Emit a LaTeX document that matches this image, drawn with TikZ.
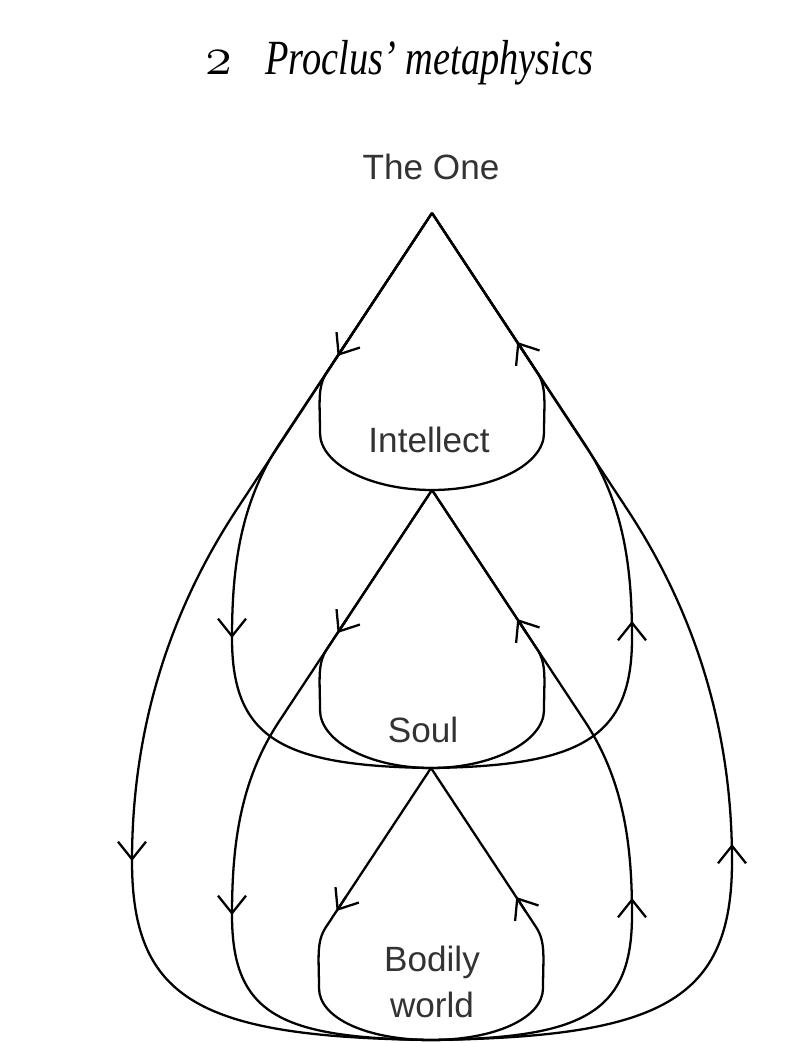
\documentclass[tikz,border=0pt]{standalone}
\usepackage{fontspec}
\usepackage{graphicx}
\newfontfamily\labfont{Liberation Sans}
\newfontfamily\titlefont{Liberation Serif}
\usetikzlibrary{arrows.meta}

\begin{document}
\begin{tikzpicture}[x=0.02cm,y=-0.02cm,
  flow/.style={line width=1.3pt},
  tip/.style={line width=1.3pt,-{Straight Barb[length=0.35cm,width=0.56cm]}},
  lab/.style={font=\labfont\fontsize{20}{26.6}\selectfont,text=black!80,inner sep=0pt}]
\useasboundingbox (0,0) rectangle (804,1043);
% title
\node[anchor=base west,inner sep=0pt] (title) at (205,75)
  {\titlefont\fontsize{28}{32}\selectfont\itshape\scalebox{1.25}{\legacyoldstylenums{2}}\hspace{19pt}\scalebox{0.78}[1]{Proclus’ metaphysics}};
% levels (tip of each drop)
\coordinate (one) at (432,213);
\coordinate (intel) at (432,490);
\coordinate (soul) at (431,768);
\coordinate (body) at (431,1040);
% labels
\node[lab,anchor=base] (oneLab) at (431,180) {The One};
\node[lab,anchor=base] (intelLab) at (429,452) {Intellect};
\node[lab,anchor=base] (soulLab) at (423,742) {Soul};
\node[lab,align=center] (bodyLab) at (432,982) {Bodily\\world};
% inner drops: one level down
\foreach \src/\dst in {one/intel,intel/soul,soul/body}{
  \foreach \s in {1,-1}{
    \begin{scope}[shift={(\src)},xscale=\s]
      \draw[flow] (\src) -- (-105,159) .. controls +(-10,15) and +(0,-30) .. (-112,220)
        .. controls +(0,31) and +(-62,0) .. (\dst);
      \draw[tip] ({-89.8+4.6*(\s)},{136-7*(\s)}) -- ({-89.8-4.6*(\s)},{136+7*(\s)});
    \end{scope}
  }
}
% middle drops: two levels down
\foreach \src/\dst in {one/soul,intel/body}{
  \foreach \s in {1,-1}{
    \begin{scope}[shift={(\src)},xscale=\s]
      \draw[flow] (\src) -- (-152,230) .. controls +(-40,60) and +(0,-70) .. (-200,425)
        .. controls +(0,100) and +(-150,-2) .. (\dst);
      \draw[tip] (-200,{416.5-8.5*(\s)}) -- (-200,{416.5+8.5*(\s)});
    \end{scope}
  }
}
% outer drop: The One to the bodily world
\foreach \s in {1,-1}{
  \begin{scope}[shift={(one)},xscale=\s]
    \draw[flow] (one) -- (-195,296) .. controls +(-79,120) and +(0,-110) .. (-300,648)
      .. controls +(0,140) and +(-230,-3) .. (body);
    \draw[tip] (-300,{639.5-8.5*(\s)}) -- (-300,{639.5+8.5*(\s)});
  \end{scope}
}
\end{tikzpicture}
\end{document}
